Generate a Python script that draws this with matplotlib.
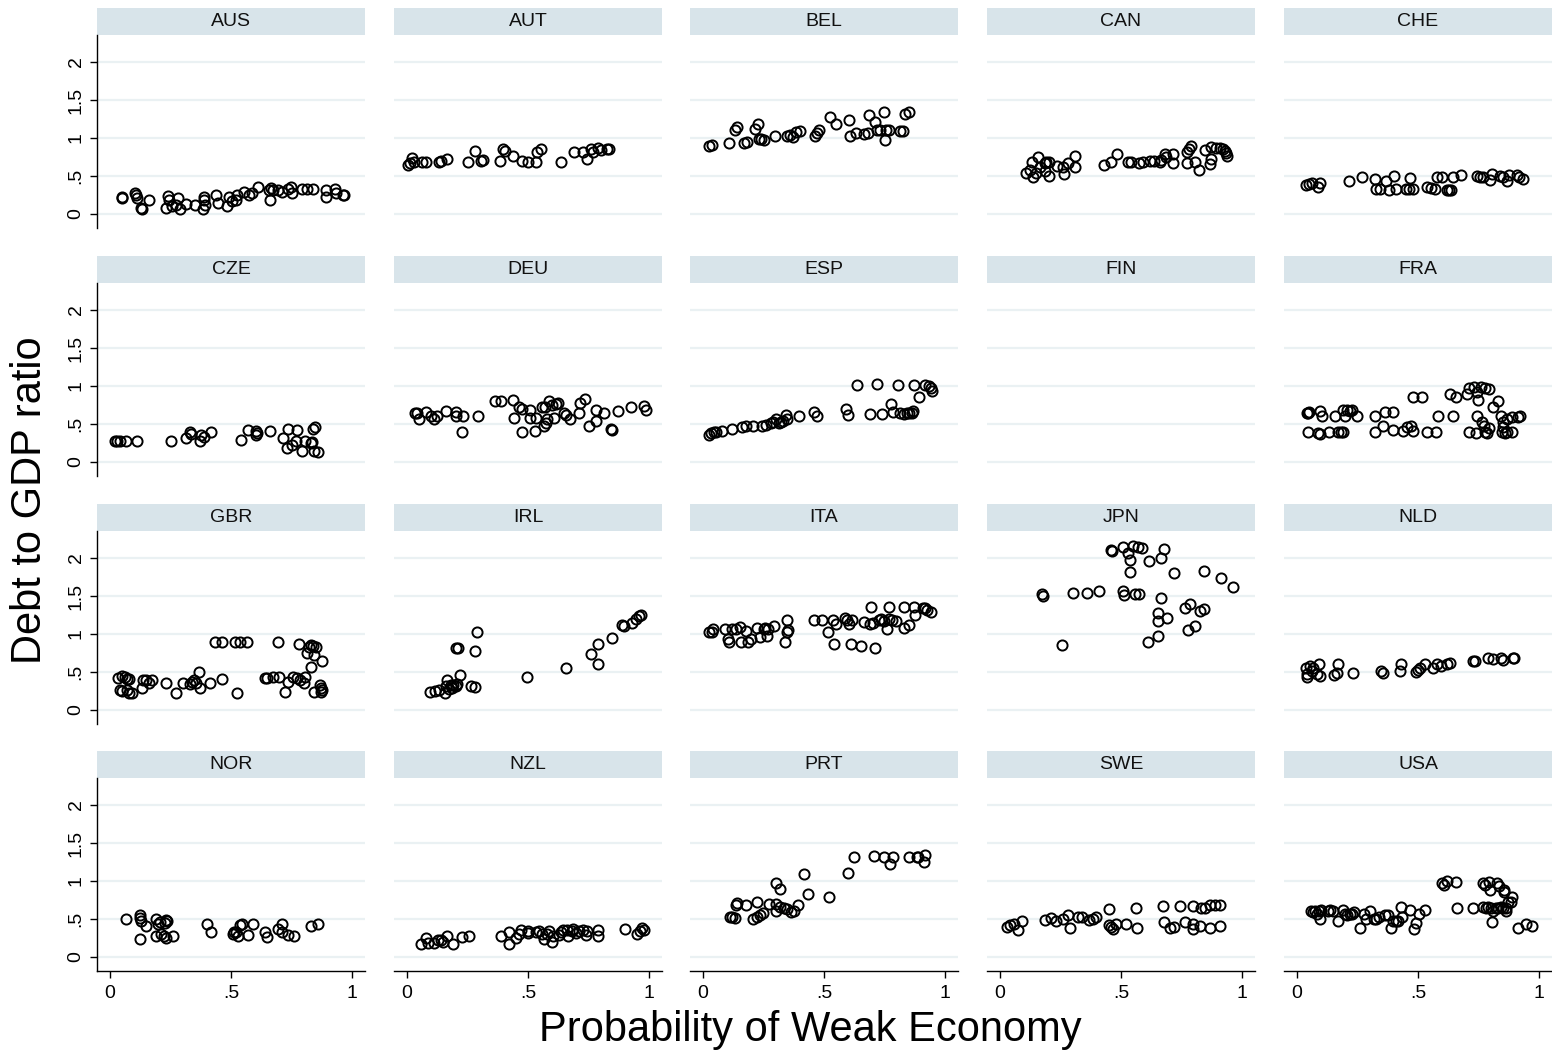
import matplotlib
matplotlib.use("Agg")
import matplotlib.pyplot as plt
from matplotlib.patches import Rectangle

plt.rcParams['font.family'] = ['Liberation Sans', 'DejaVu Sans']

# ---- data (x = probability of weak economy, y = debt/GDP)
countries = ["AUS", "AUT", "BEL", "CAN", "CHE",
             "CZE", "DEU", "ESP", "FIN", "FRA",
             "GBR", "IRL", "ITA", "JPN", "NLD",
             "NOR", "NZL", "PRT", "SWE", "USA"]

aus_x = [0.048, 0.051, 0.104, 0.107, 0.112, 0.128, 0.133, 0.16, 0.232, 0.24, 0.245, 0.256, 0.272,
         0.28, 0.288, 0.312, 0.352, 0.384, 0.387, 0.387, 0.392, 0.44, 0.448, 0.485, 0.491, 0.504,
         0.52, 0.523, 0.552, 0.576, 0.587, 0.613, 0.656, 0.66, 0.664, 0.672, 0.696, 0.712, 0.736,
         0.747, 0.752, 0.792, 0.816, 0.84, 0.893, 0.893, 0.928, 0.936, 0.965, 0.968]
aus_y = [0.23, 0.21, 0.28, 0.25, 0.21, 0.08, 0.06, 0.18, 0.08, 0.24, 0.18, 0.10, 0.12,
         0.21, 0.07, 0.13, 0.12, 0.06, 0.23, 0.18, 0.12, 0.25, 0.14, 0.11, 0.22, 0.17,
         0.18, 0.25, 0.29, 0.25, 0.28, 0.36, 0.32, 0.19, 0.34, 0.31, 0.31, 0.29, 0.33,
         0.36, 0.28, 0.33, 0.33, 0.33, 0.32, 0.22, 0.33, 0.28, 0.25, 0.25]

aut_x = [0.003, 0.014, 0.019, 0.027, 0.06, 0.079, 0.132, 0.14, 0.164, 0.252, 0.281, 0.304, 0.313,
         0.386, 0.397, 0.405, 0.437, 0.474, 0.502, 0.534, 0.539, 0.553, 0.635, 0.69, 0.727, 0.743,
         0.759, 0.77, 0.791, 0.802, 0.828, 0.834]
aut_y = [0.65, 0.67, 0.74, 0.68, 0.69, 0.69, 0.68, 0.70, 0.73, 0.68, 0.83, 0.70, 0.71,
         0.70, 0.85, 0.83, 0.76, 0.70, 0.68, 0.68, 0.82, 0.86, 0.68, 0.82, 0.82, 0.73,
         0.86, 0.81, 0.87, 0.84, 0.86, 0.86]

bel_x = [0.023, 0.035, 0.107, 0.13, 0.142, 0.168, 0.181, 0.214, 0.227, 0.23, 0.24, 0.253, 0.299,
         0.345, 0.36, 0.37, 0.383, 0.401, 0.464, 0.472, 0.479, 0.524, 0.548, 0.605, 0.609, 0.632,
         0.666, 0.681, 0.685, 0.709, 0.72, 0.732, 0.75, 0.753, 0.758, 0.77, 0.815, 0.827, 0.835, 0.85]
bel_y = [0.89, 0.91, 0.94, 1.11, 1.14, 0.94, 0.95, 1.12, 1.18, 0.99, 0.99, 0.97, 1.03,
         1.03, 1.04, 1.01, 1.08, 1.09, 1.03, 1.06, 1.11, 1.27, 1.19, 1.24, 1.02, 1.06,
         1.05, 1.06, 1.30, 1.21, 1.10, 1.10, 1.34, 0.97, 1.10, 1.10, 1.09, 1.09, 1.31, 1.34]

can_x = [0.107, 0.122, 0.133, 0.138, 0.148, 0.158, 0.165, 0.184, 0.19, 0.204, 0.184, 0.202, 0.237,
         0.26, 0.265, 0.28, 0.311, 0.311, 0.429, 0.459, 0.482, 0.528, 0.54, 0.574, 0.59, 0.62,
         0.636, 0.662, 0.666, 0.681, 0.685, 0.715, 0.715, 0.773, 0.781, 0.789, 0.773, 0.804, 0.822,
         0.847, 0.868, 0.873, 0.873, 0.893, 0.911, 0.922, 0.93, 0.934, 0.939]
can_y = [0.54, 0.58, 0.69, 0.49, 0.54, 0.75, 0.62, 0.67, 0.69, 0.69, 0.56, 0.50, 0.63,
         0.62, 0.53, 0.67, 0.76, 0.62, 0.65, 0.68, 0.79, 0.68, 0.68, 0.67, 0.68, 0.70,
         0.70, 0.68, 0.71, 0.79, 0.75, 0.79, 0.67, 0.81, 0.86, 0.89, 0.67, 0.68, 0.58,
         0.84, 0.66, 0.73, 0.88, 0.87, 0.87, 0.85, 0.83, 0.80, 0.76]

che_x = [0.037, 0.051, 0.061, 0.088, 0.095, 0.216, 0.27, 0.322, 0.326, 0.343, 0.366, 0.38, 0.402,
         0.409, 0.45, 0.464, 0.478, 0.467, 0.536, 0.554, 0.57, 0.577, 0.598, 0.618, 0.628, 0.636,
         0.646, 0.678, 0.742, 0.756, 0.77, 0.797, 0.807, 0.839, 0.853, 0.866, 0.877, 0.91, 0.919, 0.933]
che_y = [0.38, 0.40, 0.41, 0.36, 0.41, 0.43, 0.49, 0.46, 0.33, 0.33, 0.44, 0.31, 0.50,
         0.33, 0.33, 0.33, 0.33, 0.47, 0.35, 0.34, 0.33, 0.49, 0.49, 0.32, 0.32, 0.32,
         0.49, 0.51, 0.50, 0.49, 0.49, 0.45, 0.52, 0.50, 0.49, 0.44, 0.51, 0.51, 0.49, 0.46]

cze_x = [0.019, 0.029, 0.04, 0.067, 0.112, 0.253, 0.312, 0.331, 0.336, 0.371, 0.376, 0.387, 0.419,
         0.541, 0.571, 0.605, 0.608, 0.605, 0.661, 0.717, 0.733, 0.736, 0.752, 0.768, 0.773, 0.795,
         0.808, 0.829, 0.835, 0.84, 0.848, 0.843, 0.861]
cze_y = [0.28, 0.28, 0.28, 0.28, 0.28, 0.28, 0.32, 0.39, 0.37, 0.28, 0.36, 0.33, 0.40,
         0.29, 0.42, 0.41, 0.38, 0.36, 0.41, 0.31, 0.18, 0.44, 0.22, 0.27, 0.42, 0.15,
         0.28, 0.25, 0.26, 0.43, 0.46, 0.14, 0.13]

deu_x = [0.031, 0.043, 0.051, 0.08, 0.1, 0.111, 0.124, 0.159, 0.201, 0.204, 0.232, 0.228, 0.293,
         0.365, 0.389, 0.437, 0.442, 0.461, 0.477, 0.474, 0.51, 0.51, 0.534, 0.529, 0.566, 0.574,
         0.579, 0.558, 0.569, 0.587, 0.598, 0.614, 0.622, 0.606, 0.65, 0.657, 0.674, 0.711, 0.715,
         0.735, 0.751, 0.78, 0.783, 0.815, 0.844, 0.847, 0.871, 0.924, 0.979, 0.989]
deu_y = [0.65, 0.65, 0.57, 0.66, 0.60, 0.57, 0.60, 0.67, 0.66, 0.60, 0.60, 0.39, 0.60,
         0.80, 0.80, 0.81, 0.58, 0.72, 0.70, 0.39, 0.68, 0.58, 0.58, 0.41, 0.47, 0.51,
         0.56, 0.73, 0.73, 0.80, 0.75, 0.76, 0.78, 0.58, 0.64, 0.62, 0.57, 0.65, 0.78,
         0.83, 0.47, 0.68, 0.54, 0.65, 0.43, 0.42, 0.67, 0.73, 0.74, 0.68]

esp_x = [0.023, 0.031, 0.046, 0.054, 0.077, 0.118, 0.161, 0.176, 0.207, 0.245, 0.26, 0.28, 0.291,
         0.302, 0.314, 0.322, 0.329, 0.341, 0.345, 0.395, 0.459, 0.47, 0.593, 0.6, 0.636, 0.692,
         0.72, 0.74, 0.778, 0.784, 0.804, 0.816, 0.832, 0.842, 0.853, 0.862, 0.868, 0.873, 0.893,
         0.916, 0.934, 0.942, 0.945]
esp_y = [0.36, 0.38, 0.40, 0.40, 0.41, 0.44, 0.46, 0.47, 0.47, 0.48, 0.49, 0.51, 0.53,
         0.56, 0.51, 0.52, 0.54, 0.62, 0.57, 0.60, 0.66, 0.60, 0.70, 0.62, 1.01, 0.63,
         1.02, 0.63, 0.76, 0.66, 1.01, 0.65, 0.63, 0.64, 0.64, 0.65, 0.67, 1.01, 0.86,
         1.01, 1.00, 0.97, 0.93]

fin_x = []
fin_y = []

fra_x = [0.04, 0.047, 0.051, 0.044, 0.085, 0.095, 0.095, 0.102, 0.134, 0.157, 0.171, 0.18, 0.191,
         0.189, 0.198, 0.208, 0.219, 0.229, 0.247, 0.322, 0.322, 0.357, 0.364, 0.395, 0.398, 0.437,
         0.453, 0.471, 0.48, 0.48, 0.518, 0.539, 0.573, 0.581, 0.632, 0.656, 0.643, 0.703, 0.71,
         0.731, 0.742, 0.759, 0.777, 0.795, 0.749, 0.712, 0.738, 0.745, 0.763, 0.773, 0.777, 0.786,
         0.793, 0.811, 0.832, 0.843, 0.853, 0.853, 0.848, 0.859, 0.869, 0.887, 0.867, 0.887, 0.915, 0.921]
fra_y = [0.65, 0.65, 0.66, 0.39, 0.38, 0.37, 0.67, 0.60, 0.39, 0.60, 0.39, 0.40, 0.40,
         0.69, 0.60, 0.68, 0.67, 0.69, 0.61, 0.40, 0.61, 0.48, 0.66, 0.66, 0.42, 0.41,
         0.46, 0.47, 0.41, 0.86, 0.86, 0.39, 0.40, 0.60, 0.89, 0.86, 0.60, 0.90, 0.98,
         0.99, 0.92, 0.99, 0.98, 0.96, 0.82, 0.39, 0.38, 0.60, 0.53, 0.48, 0.40, 0.38,
         0.45, 0.73, 0.80, 0.60, 0.52, 0.46, 0.39, 0.38, 0.39, 0.40, 0.56, 0.59, 0.59, 0.60]

gbr_x = [0.032, 0.048, 0.061, 0.072, 0.08, 0.04, 0.048, 0.072, 0.08, 0.091, 0.133, 0.136, 0.147,
         0.163, 0.173, 0.232, 0.272, 0.301, 0.331, 0.339, 0.349, 0.355, 0.368, 0.371, 0.413, 0.432,
         0.464, 0.464, 0.515, 0.536, 0.568, 0.525, 0.64, 0.648, 0.672, 0.70, 0.693, 0.725, 0.736,
         0.755, 0.771, 0.784, 0.80, 0.781, 0.808, 0.813, 0.824, 0.832, 0.84, 0.851, 0.832, 0.843,
         0.845, 0.877, 0.867, 0.872, 0.875, 0.872]
gbr_y = [0.42, 0.45, 0.43, 0.41, 0.41, 0.26, 0.25, 0.26, 0.23, 0.22, 0.29, 0.39, 0.39,
         0.36, 0.39, 0.36, 0.22, 0.36, 0.34, 0.37, 0.39, 0.35, 0.50, 0.29, 0.36, 0.90,
         0.90, 0.41, 0.89, 0.89, 0.89, 0.23, 0.42, 0.42, 0.43, 0.43, 0.89, 0.24, 0.37,
         0.44, 0.42, 0.39, 0.35, 0.87, 0.44, 0.75, 0.83, 0.86, 0.84, 0.83, 0.57, 0.72,
         0.24, 0.64, 0.33, 0.29, 0.26, 0.24]

irl_x = [0.095, 0.116, 0.132, 0.156, 0.159, 0.164, 0.172, 0.18, 0.185, 0.191, 0.201, 0.207, 0.201,
         0.212, 0.22, 0.265, 0.281, 0.281, 0.289, 0.494, 0.659, 0.759, 0.791, 0.791, 0.847, 0.887,
         0.895, 0.928, 0.947, 0.957, 0.968]
irl_y = [0.24, 0.25, 0.26, 0.23, 0.31, 0.39, 0.28, 0.33, 0.29, 0.33, 0.32, 0.34, 0.81,
         0.82, 0.46, 0.32, 0.30, 0.77, 1.03, 0.43, 0.55, 0.74, 0.87, 0.61, 0.95, 1.12,
         1.10, 1.15, 1.20, 1.24, 1.25]

ita_x = [0.026, 0.035, 0.041, 0.092, 0.119, 0.138, 0.153, 0.104, 0.107, 0.158, 0.176, 0.187, 0.199,
         0.225, 0.237, 0.25, 0.256, 0.268, 0.263, 0.294, 0.34, 0.349, 0.352, 0.349, 0.459, 0.49,
         0.516, 0.536, 0.548, 0.541, 0.585, 0.594, 0.605, 0.617, 0.613, 0.651, 0.666, 0.689, 0.704,
         0.694, 0.709, 0.727, 0.735, 0.75, 0.769, 0.781, 0.796, 0.761, 0.77, 0.83, 0.853, 0.832,
         0.873, 0.877, 0.908, 0.919, 0.926, 0.942]
ita_y = [1.02, 1.03, 1.06, 1.06, 1.07, 1.06, 1.09, 0.93, 0.90, 0.89, 1.04, 0.89, 0.93,
         1.08, 0.96, 1.06, 1.08, 1.06, 0.98, 1.10, 0.90, 1.18, 1.05, 1.03, 1.19, 1.19,
         1.02, 1.18, 1.13, 0.87, 1.21, 1.18, 1.13, 1.18, 0.87, 0.84, 1.16, 1.13, 1.14,
         1.35, 0.82, 1.19, 1.20, 1.17, 1.20, 1.18, 1.17, 1.07, 1.35, 1.08, 1.12, 1.35,
         1.35, 1.25, 1.34, 1.34, 1.32, 1.29]

jpn_x = [0.173, 0.179, 0.256, 0.302, 0.36, 0.41, 0.459, 0.462, 0.508, 0.513, 0.51, 0.531, 0.536,
         0.539, 0.548, 0.57, 0.585, 0.556, 0.574, 0.613, 0.617, 0.651, 0.654, 0.655, 0.666, 0.666,
         0.678, 0.692, 0.72, 0.766, 0.786, 0.776, 0.804, 0.827, 0.842, 0.842, 0.914, 0.962]
jpn_y = [1.52, 1.50, 0.86, 1.54, 1.54, 1.56, 2.11, 2.09, 1.56, 1.51, 2.15, 2.07, 1.81,
         1.98, 2.16, 2.14, 2.13, 1.52, 1.52, 0.90, 1.96, 1.27, 1.17, 0.97, 1.47, 2.00,
         2.12, 1.21, 1.80, 1.34, 1.40, 1.05, 1.11, 1.30, 1.33, 1.83, 1.74, 1.62]

nld_x = [0.037, 0.04, 0.043, 0.054, 0.061, 0.067, 0.081, 0.092, 0.095, 0.154, 0.164, 0.171, 0.233,
         0.347, 0.357, 0.426, 0.428, 0.49, 0.499, 0.508, 0.529, 0.563, 0.577, 0.595, 0.618, 0.632,
         0.726, 0.736, 0.791, 0.809, 0.843, 0.853, 0.891, 0.897]
nld_y = [0.55, 0.44, 0.47, 0.58, 0.51, 0.55, 0.47, 0.61, 0.45, 0.46, 0.49, 0.61, 0.49,
         0.51, 0.49, 0.51, 0.61, 0.50, 0.52, 0.55, 0.60, 0.55, 0.61, 0.58, 0.60, 0.62,
         0.64, 0.64, 0.68, 0.67, 0.69, 0.66, 0.69, 0.69]

nor_x = [0.064, 0.123, 0.125, 0.128, 0.122, 0.147, 0.189, 0.197, 0.205, 0.189, 0.211, 0.221, 0.227,
         0.232, 0.235, 0.232, 0.261, 0.40, 0.416, 0.507, 0.512, 0.52, 0.531, 0.536, 0.544, 0.571,
         0.592, 0.64, 0.648, 0.696, 0.712, 0.712, 0.736, 0.76, 0.832, 0.861]
nor_y = [0.50, 0.55, 0.51, 0.48, 0.24, 0.41, 0.50, 0.43, 0.46, 0.27, 0.30, 0.28, 0.45,
         0.49, 0.47, 0.25, 0.27, 0.44, 0.33, 0.30, 0.33, 0.33, 0.27, 0.42, 0.43, 0.29,
         0.43, 0.33, 0.26, 0.37, 0.43, 0.33, 0.29, 0.28, 0.41, 0.43]

nzl_x = [0.059, 0.08, 0.088, 0.111, 0.127, 0.14, 0.148, 0.167, 0.188, 0.228, 0.257, 0.389, 0.421,
         0.421, 0.45, 0.464, 0.469, 0.498, 0.502, 0.534, 0.545, 0.558, 0.566, 0.577, 0.587, 0.598,
         0.603, 0.63, 0.638, 0.643, 0.662, 0.667, 0.683, 0.686, 0.699, 0.711, 0.727, 0.738, 0.743,
         0.791, 0.791, 0.90, 0.949, 0.963, 0.971, 0.981]
nzl_y = [0.17, 0.25, 0.18, 0.19, 0.23, 0.23, 0.20, 0.28, 0.17, 0.26, 0.27, 0.28, 0.33,
         0.17, 0.25, 0.30, 0.36, 0.31, 0.34, 0.33, 0.34, 0.30, 0.24, 0.30, 0.34, 0.20,
         0.27, 0.29, 0.33, 0.36, 0.36, 0.28, 0.34, 0.37, 0.31, 0.34, 0.36, 0.29, 0.34,
         0.36, 0.27, 0.37, 0.30, 0.34, 0.38, 0.36]

prt_x = [0.111, 0.119, 0.132, 0.137, 0.142, 0.178, 0.205, 0.224, 0.236, 0.247, 0.221, 0.274, 0.30,
         0.32, 0.335, 0.30, 0.32, 0.30, 0.346, 0.365, 0.376, 0.391, 0.416, 0.434, 0.521, 0.601,
         0.624, 0.708, 0.749, 0.784, 0.773, 0.852, 0.883, 0.89, 0.913, 0.918]
prt_y = [0.52, 0.53, 0.51, 0.69, 0.71, 0.68, 0.50, 0.53, 0.55, 0.58, 0.72, 0.70, 0.70,
         0.66, 0.65, 0.97, 0.90, 0.61, 0.63, 0.59, 0.60, 0.68, 1.09, 0.83, 0.79, 1.10,
         1.32, 1.33, 1.31, 1.31, 1.22, 1.32, 1.31, 1.31, 1.25, 1.34]

swe_x = [0.029, 0.041, 0.056, 0.075, 0.09, 0.186, 0.209, 0.232, 0.261, 0.28, 0.291, 0.323, 0.338,
         0.369, 0.384, 0.395, 0.451, 0.451, 0.46, 0.466, 0.479, 0.521, 0.563, 0.566, 0.674, 0.677,
         0.703, 0.718, 0.745, 0.765, 0.796, 0.796, 0.799, 0.826, 0.829, 0.848, 0.87, 0.87, 0.887,
         0.909, 0.909]
swe_y = [0.39, 0.42, 0.44, 0.35, 0.47, 0.49, 0.51, 0.48, 0.50, 0.55, 0.38, 0.53, 0.52,
         0.49, 0.50, 0.52, 0.63, 0.42, 0.39, 0.37, 0.44, 0.44, 0.65, 0.38, 0.67, 0.46,
         0.38, 0.40, 0.67, 0.46, 0.43, 0.37, 0.67, 0.41, 0.65, 0.64, 0.38, 0.68, 0.69,
         0.41, 0.69]

usa_x = [0.056, 0.064, 0.074, 0.081, 0.091, 0.093, 0.097, 0.129, 0.138, 0.15, 0.17, 0.188, 0.198,
         0.207, 0.218, 0.229, 0.236, 0.262, 0.276, 0.287, 0.30, 0.317, 0.325, 0.339, 0.362, 0.376,
         0.39, 0.396, 0.407, 0.417, 0.428, 0.435, 0.465, 0.483, 0.492, 0.506, 0.527, 0.60, 0.609,
         0.618, 0.657, 0.661, 0.728, 0.767, 0.78, 0.79, 0.801, 0.81, 0.821, 0.831, 0.842, 0.852,
         0.863, 0.865, 0.874, 0.883, 0.89, 0.77, 0.777, 0.794, 0.798, 0.826, 0.835, 0.856, 0.856,
         0.805, 0.915, 0.948, 0.973]
usa_y = [0.60, 0.59, 0.60, 0.57, 0.60, 0.50, 0.62, 0.60, 0.62, 0.60, 0.48, 0.62, 0.56,
         0.55, 0.57, 0.57, 0.59, 0.38, 0.56, 0.50, 0.60, 0.50, 0.50, 0.53, 0.55, 0.55,
         0.38, 0.48, 0.47, 0.47, 0.66, 0.53, 0.62, 0.37, 0.45, 0.57, 0.62, 0.98, 0.95,
         1.00, 0.99, 0.64, 0.65, 0.66, 0.65, 0.66, 0.65, 0.60, 0.65, 0.65, 0.66, 0.64,
         0.65, 0.60, 0.73, 0.73, 0.79, 0.98, 0.95, 0.99, 0.88, 0.98, 0.94, 0.88, 0.85,
         0.46, 0.38, 0.44, 0.41]

series = {
    "AUS": (aus_x, aus_y), "AUT": (aut_x, aut_y), "BEL": (bel_x, bel_y),
    "CAN": (can_x, can_y), "CHE": (che_x, che_y), "CZE": (cze_x, cze_y),
    "DEU": (deu_x, deu_y), "ESP": (esp_x, esp_y), "FIN": (fin_x, fin_y),
    "FRA": (fra_x, fra_y), "GBR": (gbr_x, gbr_y), "IRL": (irl_x, irl_y),
    "ITA": (ita_x, ita_y), "JPN": (jpn_x, jpn_y), "NLD": (nld_x, nld_y),
    "NOR": (nor_x, nor_y), "NZL": (nzl_x, nzl_y), "PRT": (prt_x, prt_y),
    "SWE": (swe_x, swe_y), "USA": (usa_x, usa_y),
}

x_ticks = [0, 0.5, 1]
x_tick_labels = ["0", ".5", "1"]
y_ticks = [0, 0.5, 1, 1.5, 2]
y_tick_labels = ["0", ".5", "1", "1.5", "2"]

# ---- layout (pixel geometry of the reference, 1552 x 1055)
W, H = 1552, 1055
STRIP_COLOR = "#d8e4ea"
GRID_COLOR = "#eaf1f3"

fig = plt.figure(figsize=(W / 100, H / 100), dpi=100)

col_left = [97, 394, 690, 987, 1284]
panel_w = 268
row_top = [35, 283, 531, 778]      # top of plot area (below the strip)
panel_h = 193
strip_h = 27

for i, name in enumerate(countries):
    r, c = divmod(i, 5)
    left = col_left[c] / W
    bottom = 1 - (row_top[r] + panel_h) / H
    ax = fig.add_axes([left, bottom, panel_w / W, panel_h / H])
    ax.set_xlim(-0.054, 1.054)
    ax.set_ylim(-0.184, 2.355)

    for yv in y_ticks:
        ax.axhline(yv, color=GRID_COLOR, lw=1.6, zorder=0)

    xs, ys = series[name]
    ax.plot(xs, ys, linestyle="none", marker="o", markersize=7.3,
            markerfacecolor="none", markeredgecolor="black",
            markeredgewidth=1.4, zorder=3, clip_on=False)

    for s in ax.spines.values():
        s.set_visible(False)

    if c == 0:
        ax.spines["left"].set_visible(True)
        ax.spines["left"].set_linewidth(1.0)
        ax.set_yticks(y_ticks)
        ax.set_yticklabels(y_tick_labels, rotation=90, va="center", fontsize=14)
        ax.tick_params(axis="y", length=5, width=1.0, pad=4)
    else:
        ax.set_yticks([])

    if r == 3:
        ax.spines["bottom"].set_visible(True)
        ax.spines["bottom"].set_linewidth(1.0)
        ax.set_xticks(x_ticks)
        ax.set_xticklabels(x_tick_labels, fontsize=14)
        ax.tick_params(axis="x", length=5, width=1.0, pad=5)
    else:
        ax.set_xticks([])

    # strip header
    sh = strip_h / panel_h
    ax.add_patch(Rectangle((0, 1), 1, sh, transform=ax.transAxes,
                           facecolor=STRIP_COLOR, edgecolor="none", clip_on=False))
    ax.text(0.5, 1 + sh / 2, name, transform=ax.transAxes, ha="center",
            va="center", fontsize=14, color="#111111")

fig.text(30 / W, 1 - 500 / H, "Debt to GDP ratio", rotation=90,
         ha="center", va="center", fontsize=30)
fig.text(810 / W, 1 - 1030 / H, "Probability of Weak Economy",
         ha="center", va="center", fontsize=30)

fig.savefig("out.png", dpi=100, facecolor="white")
